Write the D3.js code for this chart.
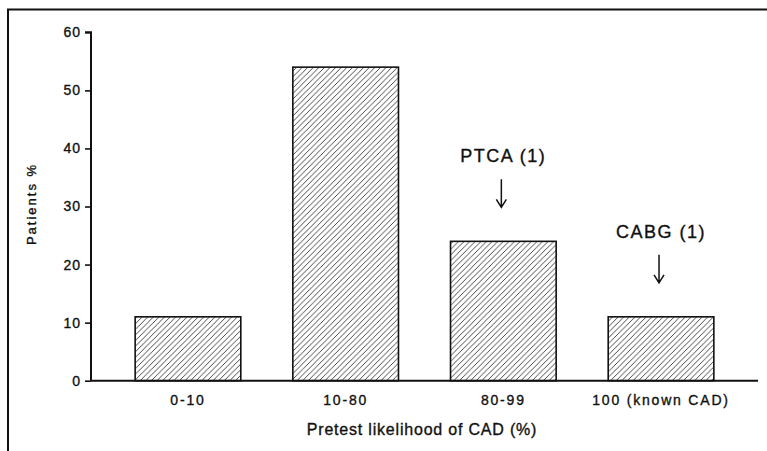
<!DOCTYPE html>
<html>
<head>
<meta charset="utf-8">
<script src="https://cdn.jsdelivr.net/npm/d3@7"></script>
<style>
  html, body { margin: 0; padding: 0; background: #fff; }
  svg { display: block; }
  text { font-family: "Liberation Sans", Arial, Helvetica, sans-serif; fill: #111; stroke: #111; stroke-width: 0.35px; }
</style>
</head>
<body>
<svg id="chart" width="767" height="451"></svg>
<script>
// ---- data ----
const categories = ["0-10", "10-80", "80-99", "100 (known CAD)"];
const patientsPct = [11, 54, 24, 11];
const yTicks = [0, 10, 20, 30, 40, 50, 60];
const annotations = [
  { category: "80-99", label: "PTCA (1)" },
  { category: "100 (known CAD)", label: "CABG (1)" }
];
const xTitle = "Pretest likelihood of CAD (%)";
const yTitle = "Patients %";

// ---- layout ----
const W = 767, H = 451;
const svg = d3.select("#chart");

const x = d3.scaleBand()
  .domain(categories)
  .range([91, 758])
  .paddingInner(0.33)
  .paddingOuter(0.28);

const y = d3.scaleLinear()
  .domain([0, 60])
  .range([380.7, 32.3]);

// hatch pattern
const defs = svg.append("defs");
const pat = defs.append("pattern")
  .attr("id", "hatch")
  .attr("patternUnits", "userSpaceOnUse")
  .attr("width", 5.6).attr("height", 5.6);
pat.append("path")
  .attr("d", "M0,5.6 L5.6,0 M-1.4,1.4 L1.4,-1.4 M4.2,7 L7,4.2")
  .attr("stroke", "#333")
  .attr("stroke-width", 0.9);

// outer frame (top and left edges)
svg.append("path")
  .attr("d", `M8,${H} L8,9.5 L${W},9.5`)
  .attr("fill", "none")
  .attr("stroke", "#111")
  .attr("stroke-width", 2);

// bars
svg.append("g").selectAll("rect")
  .data(categories)
  .join("rect")
  .attr("x", d => x(d))
  .attr("width", x.bandwidth())
  .attr("y", (d, i) => y(patientsPct[i]))
  .attr("height", (d, i) => y(0) - y(patientsPct[i]))
  .attr("fill", "url(#hatch)")
  .attr("stroke", "#111")
  .attr("stroke-width", 1.6);

// y axis
const yAxis = d3.axisLeft(y)
  .tickValues(yTicks)
  .tickSize(6)
  .tickPadding(4)
  .tickFormat(d3.format("d"));
const gy = svg.append("g")
  .attr("transform", "translate(91,0)")
  .call(yAxis);
gy.select(".domain").attr("stroke", "#111").attr("stroke-width", 2)
  .attr("d", `M-6,${y(60)}H0V${y(0)}`);
gy.selectAll(".tick line").attr("stroke", "#111").attr("stroke-width", 1.6);
gy.selectAll(".tick text")
  .style("font-family", '"Liberation Sans", Arial, sans-serif')
  .style("font-size", "14px")
  .style("letter-spacing", "1px")
  .attr("fill", "#111");

// x axis
const xAxis = d3.axisBottom(x).tickSize(0).tickPadding(14);
const gx = svg.append("g")
  .attr("transform", `translate(0,${y(0)})`)
  .call(xAxis);
gx.select(".domain").attr("stroke", "#111").attr("stroke-width", 2)
  .attr("d", `M91,0H758`);
gx.selectAll(".tick text")
  .style("font-family", '"Liberation Sans", Arial, sans-serif')
  .style("font-size", "14px")
  .style("letter-spacing", "1.8px")
  .attr("fill", "#111");

// axis titles
svg.append("text")
  .attr("x", 422)
  .attr("y", 435)
  .attr("text-anchor", "middle")
  .style("font-size", "16px")
  .style("letter-spacing", "0.8px")
  .text(xTitle);

svg.append("text")
  .attr("transform", "translate(36,204) rotate(-90)")
  .attr("text-anchor", "middle")
  .style("font-size", "13px")
  .style("letter-spacing", "2px")
  .text(yTitle);

// annotations with arrows
const ann = svg.append("g");
annotations.forEach(a => {
  const i = categories.indexOf(a.category);
  const cx = x(a.category) + x.bandwidth() / 2;
  const top = y(patientsPct[i]);
  const tipY = top - 34;
  const startY = tipY - 28;
  ann.append("text")
    .attr("x", cx)
    .attr("y", startY - 17)
    .attr("text-anchor", "middle")
    .style("font-size", "18px")
    .style("letter-spacing", "1.5px")
    .text(a.label);
  ann.append("path")
    .attr("d", `M${cx - 2},${startY} V${tipY} M${cx - 7},${tipY - 8} L${cx - 2},${tipY} L${cx + 3},${tipY - 8}`)
    .attr("fill", "none")
    .attr("stroke", "#111")
    .attr("stroke-width", 1.5);
});
</script>
</body>
</html>
